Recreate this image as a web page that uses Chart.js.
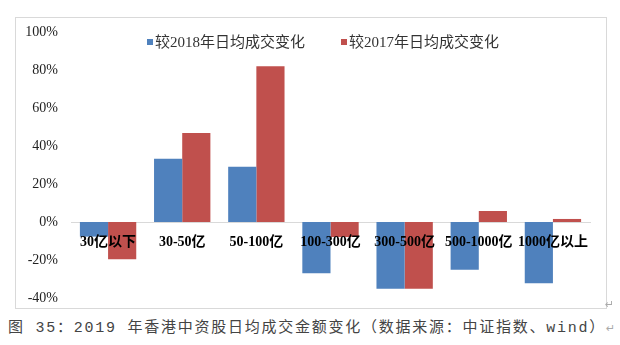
<!DOCTYPE html>
<html>
<head>
<meta charset="utf-8">
<script src="https://cdn.jsdelivr.net/npm/chart.js@4/dist/chart.umd.min.js"></script>
<style>
  body { margin: 0; width: 620px; height: 345px; background: #fff; position: relative; overflow: hidden; }
  #box { position: absolute; left: 15px; top: 17px; width: 590px; height: 290px; border: 1px solid #d9d9d9; }
  #caption { position: absolute; left: 8px; top: 315px; font: 15px "Liberation Mono", "Noto Sans CJK SC", monospace; letter-spacing: 1.75px; color: #444; white-space: nowrap; }
  .mark { color: #aaa; font: 11px "DejaVu Sans", sans-serif; letter-spacing: 0; }
  #mark2 { position: absolute; left: 605px; top: 298px; }
</style>
</head>
<body>
<div id="box"><canvas id="myChart" width="590" height="290"></canvas></div>
<span id="mark2" class="mark">↵</span>
<div id="caption">图 35：2019 年香港中资股日均成交金额变化（数据来源：中证指数、wind）<span class="mark">↵</span></div>
<script>
const categories = ["30亿以下", "30-50亿", "50-100亿", "100-300亿", "300-500亿", "500-1000亿", "1000亿以上"]
const vs2018 = [-7.7, 33.3, 29.1, -27.0, -35.1, -25.1, -32.3]
const vs2017 = [-19.6, 46.8, 82.0, -7.9, -35.1, 5.8, 1.6]
const seriesNames = ["较2018年日均成交变化", "较2017年日均成交变化"]
const seriesColors = ["#4f81bd", "#c0504d"]

// legend drawn over the top of the plot
const topLegend = {
  id: "topLegend",
  afterDraw(chart) {
    const ctx = chart.ctx
    const sets = chart.data.datasets
    ctx.save()
    ctx.font = '15px "Liberation Serif", "Noto Sans CJK SC", serif'
    ctx.textBaseline = "middle"
    const box = 6, gap = 2, spacing = 36
    const widths = sets.map(ds => box + gap + ctx.measureText(ds.label).width)
    const total = widths.reduce((a, b) => a + b, 0) + spacing * (sets.length - 1)
    let x = chart.width / 2 + 12 - total / 2
    const y = 24
    sets.forEach((ds, i) => {
      ctx.fillStyle = ds.backgroundColor
      ctx.fillRect(x, y - box / 2, box, box)
      ctx.fillStyle = "#333"
      ctx.fillText(ds.label, x + box + gap, y + 1)
      x += widths[i] + spacing
    })
    ctx.restore()
  }
}

const ctx = document.getElementById("myChart").getContext("2d")
const myChart = new Chart(ctx, {
  type: "bar",
  data: {
    labels: categories,
    datasets: [
      { label: seriesNames[0], data: vs2018, backgroundColor: seriesColors[0] },
      { label: seriesNames[1], data: vs2017, backgroundColor: seriesColors[1] }
    ]
  },
  options: {
    responsive: false,
    animation: false,
    categoryPercentage: 0.76,
    barPercentage: 1.0,
    layout: { padding: { top: 14, bottom: 10, left: 0, right: 16 } },
    plugins: { legend: { display: false }, tooltip: { enabled: false } },
    scales: {
      x: {
        position: { y: 0 },
        afterFit: (scale) => { scale.height = 0 },
        grid: { display: false, drawTicks: false },
        border: { display: true, color: "#d9d9d9", width: 1 },
        ticks: {
          z: 1,
          autoSkip: false, maxRotation: 0, padding: 12,
          color: "#000",
          font: { family: '"Liberation Serif", "Noto Sans CJK SC"', size: 14, weight: "bold" }
        }
      },
      y: {
        min: -40, max: 100,
        afterFit: (scale) => {
          scale.width = 55
          scale.paddingTop = 0
          scale.paddingBottom = 0
        },
        grid: { display: false, drawTicks: false },
        border: { display: false },
        ticks: {
          stepSize: 20, padding: 13, color: "#222",
          font: { family: '"Liberation Serif"', size: 14 },
          callback: (v) => v + "%"
        }
      }
    }
  },
  plugins: [topLegend]
})
</script>
</body>
</html>
